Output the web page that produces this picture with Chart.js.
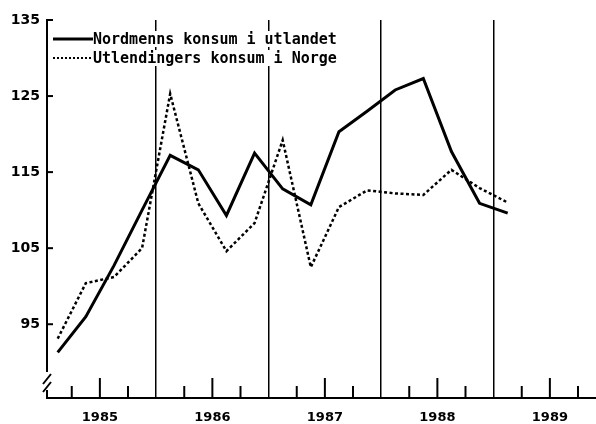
<!DOCTYPE html>
<html>
<head>
<meta charset="utf-8">
<script src="https://cdn.jsdelivr.net/npm/chart.js@4"></script>
<style>
  html, body { margin: 0; padding: 0; background: #fff; }
  #wrap { width: 596px; height: 424px; }
</style>
</head>
<body>
<div id="wrap"><canvas id="konsumChart" width="596" height="424"></canvas></div>
<script>
// Quarters (mid-quarter position in years), 1985 K1 - 1989 K1
const quarterMid = [1985.125, 1985.375, 1985.625, 1985.875,
                    1986.125, 1986.375, 1986.625, 1986.875,
                    1987.125, 1987.375, 1987.625, 1987.875,
                    1988.125, 1988.375, 1988.625, 1988.875,
                    1989.125];

// Index values
const nordmenn = [91.3, 96.0, 102.7, 110.0, 117.2, 115.3, 109.3, 117.5,
                  112.8, 110.7, 120.3, 123.0, 125.8, 127.3, 117.7, 110.9, 109.6];
const utlendinger = [93.1, 100.4, 101.2, 105.0, 125.3, 110.9, 104.6, 108.3,
                     119.2, 102.5, 110.4, 112.6, 112.2, 112.0, 115.3, 112.9, 111.0];

const seriesNames = ['Nordmenns konsum i utlandet', 'Utlendingers konsum i Norge'];
const yearLabels = [1985, 1986, 1987, 1988, 1989];
const yTicks = [95, 105, 115, 125, 135];

const xMin = 1985.03, xMax = 1989.91;

const toPoints = (vals) => vals.map((v, i) => ({ x: quarterMid[i], y: v }));

// quarter boundaries + year middles for the x axis (only inside the range)
const xTickValues = [];
yearLabels.forEach(y => {
  [y, y + 0.25, y + 0.5, y + 0.75].forEach(v => {
    if (v > xMin && v < xMax) xTickValues.push(v);
  });
});

// Inward tick marks, broken y axis and the legend
const decorations = {
  id: 'decorations',
  afterDatasetsDraw(chart) {
    const { ctx, chartArea, scales } = chart;
    const xs = scales.x, ys = scales.y;
    ctx.save();
    ctx.strokeStyle = '#000';
    ctx.lineCap = 'butt';

    // x tick marks pointing up
    ctx.lineWidth = 2;
    xTickValues.forEach(v => {
      if (Number.isInteger(v)) return;
      const px = xs.getPixelForValue(v);
      const len = (v % 1 === 0.5) ? 20 : 12;
      ctx.beginPath();
      ctx.moveTo(px, chartArea.bottom);
      ctx.lineTo(px, chartArea.bottom - len);
      ctx.stroke();
    });

    // y tick marks pointing right
    yTicks.forEach(v => {
      const py = ys.getPixelForValue(v);
      ctx.beginPath();
      ctx.moveTo(chartArea.left, py);
      ctx.lineTo(chartArea.left + 6, py);
      ctx.stroke();
    });

    // y axis with break near the bottom
    const l = chartArea.left;
    const b = chartArea.bottom;
    ctx.lineWidth = 2;
    ctx.beginPath();
    ctx.moveTo(l, chartArea.top - 1);
    ctx.lineTo(l, b - 26);
    ctx.moveTo(l, b - 8);
    ctx.lineTo(l, b);
    ctx.stroke();
    ctx.beginPath();
    ctx.moveTo(l - 4, b - 14);
    ctx.lineTo(l + 4, b - 24);
    ctx.moveTo(l - 4, b - 6);
    ctx.lineTo(l + 4, b - 16);
    ctx.stroke();

    // legend
    const lx0 = l + 6, lx1 = l + 46;
    const rows = [chartArea.top + 19, chartArea.top + 38];
    ctx.font = 'bold 15px "DejaVu Sans Mono", monospace';
    ctx.textBaseline = 'middle';
    rows.forEach((ry, i) => {
      const w = ctx.measureText(seriesNames[i]).width;
      ctx.fillStyle = '#fff';
      ctx.fillRect(lx1, ry - 8, w, 16);
      ctx.fillStyle = '#000';
      ctx.beginPath();
      if (i === 0) {
        ctx.lineWidth = 3;
        ctx.setLineDash([]);
      } else {
        ctx.lineWidth = 2;
        ctx.setLineDash([2, 2]);
      }
      ctx.moveTo(lx0, ry);
      ctx.lineTo(lx1, ry);
      ctx.stroke();
      ctx.setLineDash([]);
      ctx.fillText(seriesNames[i], lx1, ry + 1);
    });
    ctx.restore();
  }
};

const ctx = document.getElementById('konsumChart').getContext('2d');
const konsumChart = new Chart(ctx, {
  type: 'line',
  data: {
    datasets: [
      {
        label: seriesNames[0],
        data: toPoints(nordmenn),
        borderColor: '#000',
        borderWidth: 3,
        pointRadius: 0,
        tension: 0,
        fill: false
      },
      {
        label: seriesNames[1],
        data: toPoints(utlendinger),
        borderColor: '#000',
        borderWidth: 2.5,
        borderDash: [3, 2.5],
        pointRadius: 0,
        tension: 0,
        fill: false
      }
    ]
  },
  options: {
    responsive: false,
    animation: false,
    layout: { padding: { top: 20, right: 0, left: 0, bottom: 0 } },
    plugins: {
      legend: { display: false },
      tooltip: { enabled: false }
    },
    scales: {
      x: {
        type: 'linear',
        min: xMin,
        max: xMax,
        afterBuildTicks: (scale) => {
          scale.ticks = xTickValues.map(v => ({ value: v }));
        },
        afterFit: (scale) => { scale.height = 26; },
        ticks: {
          autoSkip: false,
          maxRotation: 0,
          padding: 12,
          color: '#000',
          font: { family: 'DejaVu Sans', weight: 'bold', size: 13 },
          callback: (v) => (v % 1 === 0.5) ? String(Math.floor(v)) : ''
        },
        grid: {
          drawTicks: false,
          lineWidth: 1.5,
          color: (c) => (c.tick && Number.isInteger(c.tick.value)) ? '#000' : 'rgba(0,0,0,0)'
        },
        border: { display: true, color: '#000', width: 2 }
      },
      y: {
        min: 85.3,
        max: 135,
        afterBuildTicks: (scale) => {
          scale.ticks = yTicks.map(v => ({ value: v }));
        },
        afterFit: (scale) => { scale.width = 47; },
        ticks: {
          padding: 7,
          color: '#000',
          font: { family: 'DejaVu Sans', weight: 'bold', size: 14 }
        },
        grid: { display: false, drawTicks: false },
        border: { display: false }
      }
    }
  },
  plugins: [decorations]
});
</script>
</body>
</html>
